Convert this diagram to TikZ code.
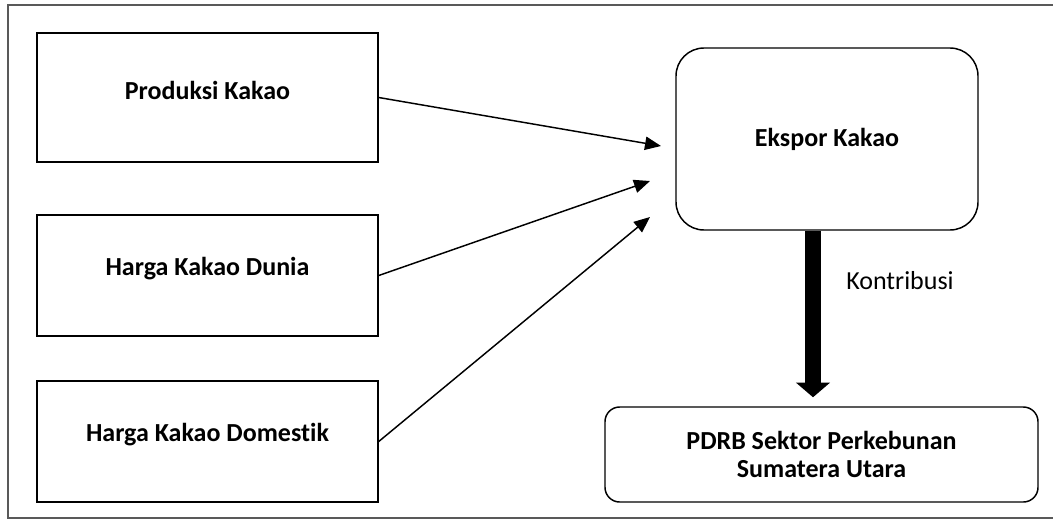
\documentclass[tikz,border=0pt]{standalone}
\usepackage{fontspec}
\setmainfont{Carlito}[Ligatures=NoCommon]
\usetikzlibrary{arrows.meta}

\newcommand{\upby}[1]{\raisebox{5.5pt}[\height][\depth]{#1}}

\begin{document}
\begin{tikzpicture}[
  x=0.75pt, y=-0.75pt,
  bnode/.style={draw,rectangle,line width=1.1pt,minimum width=255.75pt,font=\fontsize{19.5}{21}\selectfont\bfseries},
  rnode/.style={draw,rectangle,line width=1.1pt,align=center,font=\fontsize{19.5}{21}\selectfont\bfseries},
  link/.style={line width=1.1pt,-{Triangle[length=12pt,width=10pt]}},
  flow/.style={line width=12pt,-{Triangle[length=11pt,width=25pt]}}
]
  \useasboundingbox (0,0) rectangle (1053,525);
  % frame
  \draw[black!65,line width=0.8pt] (8,5) rectangle (1060,518);

  % factors
  \node[bnode,minimum height=96.75pt] (prod) at (207.5,97.5) {\upby{Produksi Kakao}};
  \node[bnode,minimum height=90.75pt] (dunia) at (207.5,275.5) {\upby{Harga Kakao Dunia}};
  \node[bnode,minimum height=90.75pt] (dom) at (207.5,441.5) {\upby{Harga Kakao Domestik}};

  % export and PDRB
  \node[rnode,rounded corners=21pt,minimum width=226.5pt,minimum height=136.5pt] (ekspor) at (827,139) {Ekspor Kakao};
  \node[rnode,rounded corners=11pt,minimum width=324.75pt,minimum height=71.25pt] (pdrb) at (821.5,454.5) {PDRB Sektor Perkebunan\\Sumatera Utara};

  % arrow ends
  \coordinate (e1) at (661,146);
  \coordinate (e2) at (650,181);
  \coordinate (e3) at (650,217);
  \coordinate (kx) at (813,0);

  % edges
  \draw[link] (prod.east) -- (e1);
  \draw[link] (dunia.east) -- (e2);
  \draw[link] (dom.east) -- (e3);
  \draw[flow,shorten >=6.75pt] (ekspor.south -| kx) -- (pdrb.north -| kx);
  \node[font=\fontsize{19.5}{21}\selectfont] (kontri) at (900,281) {Kontribusi};

\end{tikzpicture}
\end{document}
